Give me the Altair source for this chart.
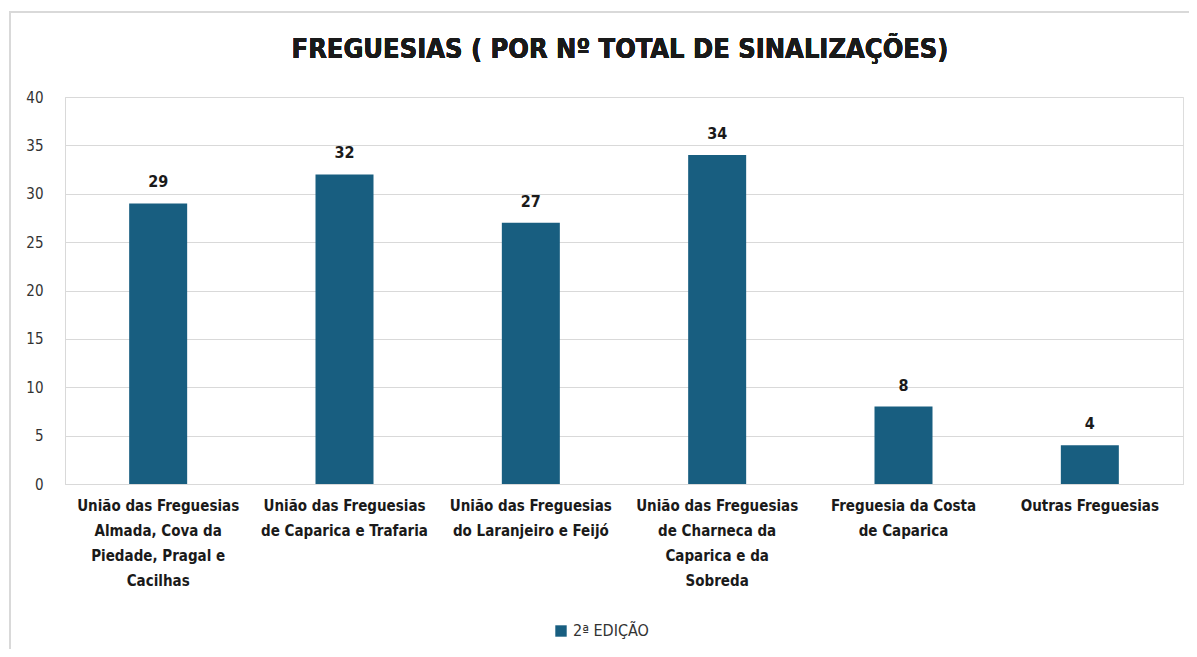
import altair as alt
import pandas as pd

categories = [
    "União das Freguesias|Almada, Cova da|Piedade, Pragal e|Cacilhas",
    "União das Freguesias|de Caparica e Trafaria",
    "União das Freguesias|do Laranjeiro e Feijó",
    "União das Freguesias|de Charneca da|Caparica e da|Sobreda",
    "Freguesia da Costa|de Caparica",
    "Outras Freguesias",
]
values = [29, 32, 27, 34, 8, 4]
series = ["2ª EDIÇÃO"] * len(values)

df = pd.DataFrame({"cat": categories, "val": values, "serie": series})

FONT = "'Liberation Sans Narrow', 'DejaVu Sans Condensed', 'Roboto Condensed', sans-serif"
COLOR = "#185e80"
W, H = 1118, 387

xenc = alt.X("cat:N", sort=categories, title=None,
             scale=alt.Scale(paddingInner=0.69, paddingOuter=0.345),
             axis=alt.Axis(labelAngle=0, labelExpr="split(datum.label, '|')",
                           labelFont=FONT, labelFontSize=15, labelFontWeight="bold",
                           labelColor="#1a1a1a", labelLineHeight=25, labelPadding=14,
                           ticks=False, domainColor="#d9d9d9", labelLimit=300,
                           labelBaseline="top"))
yenc = alt.Y("val:Q", title=None,
             scale=alt.Scale(domain=[0, 40]),
             axis=alt.Axis(values=[0, 5, 10, 15, 20, 25, 30, 35, 40],
                           labelFont=FONT, labelFontSize=15, labelColor="#333333",
                           labelPadding=22, ticks=False, domainColor="#d9d9d9",
                           gridColor="#d9d9d9", labelFlush=False))

bars = alt.Chart(df).mark_bar(size=58).encode(
    x=xenc, y=yenc,
    color=alt.Color("serie:N", title=None,
                    scale=alt.Scale(range=[COLOR]),
                    legend=alt.Legend(orient="none", legendX=488, legendY=139 + H,
                                      symbolType="square", symbolSize=130,
                                      labelFont=FONT, labelFontSize=16,
                                      labelColor="#333333", symbolStrokeWidth=0)),
)

labels = alt.Chart(df).mark_text(baseline="bottom", dy=-13, font=FONT,
                                 fontSize=16, fontWeight="bold", color="#1a1a1a").encode(
    x=alt.X("cat:N", sort=categories), y="val:Q", text="val:Q")

frame = alt.Chart(df).mark_rect(fill=None, stroke="#d9d9d9", strokeWidth=1.5).encode(
    x=alt.value(-55), x2=alt.value(1160), y=alt.value(-85), y2=alt.value(580))

title = alt.Chart(df).mark_text(font=FONT, fontSize=27, fontWeight="bold",
                                color="#1a1a1a", baseline="middle").encode(
    x=alt.value(W / 2 - 4), y=alt.value(-47),
    text=alt.value("FREGUESIAS ( POR Nº TOTAL DE SINALIZAÇÕES)"))

chart = alt.layer(frame, bars, labels, title).properties(
    width=W, height=H,
    autosize=alt.AutoSizeParams(type="none"),
    padding={"left": 57, "top": 89, "right": 6, "bottom": 165},
).configure_view(stroke=None).configure(background="white")

chart.save("out.html", embed_options={"renderer": "svg", "actions": False})
